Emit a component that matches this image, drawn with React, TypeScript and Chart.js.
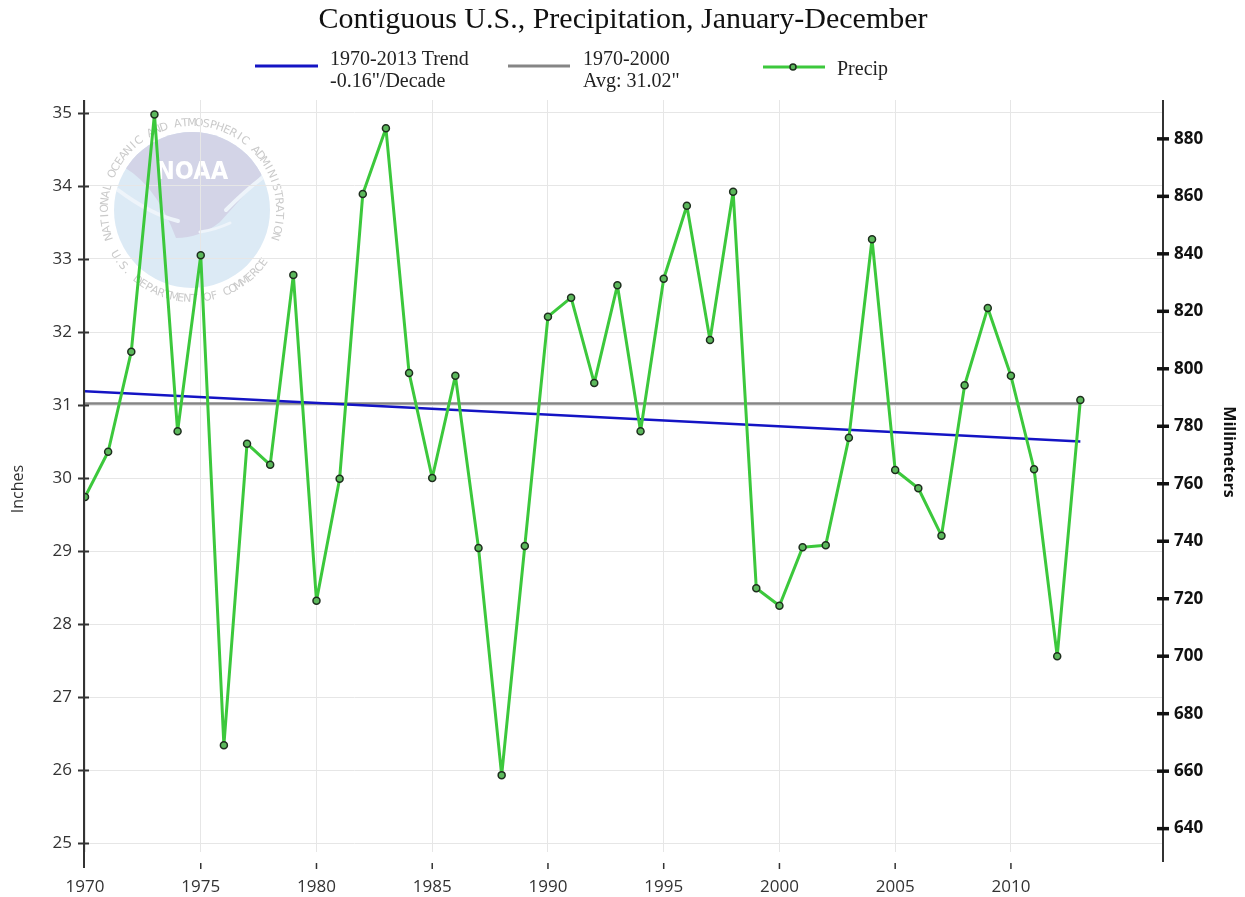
import React, { useEffect, useRef } from "react";
import { Chart, registerables } from "chart.js";

Chart.register(...registerables);

const years: number[] = [
  1970, 1971, 1972, 1973, 1974, 1975, 1976, 1977, 1978, 1979,
  1980, 1981, 1982, 1983, 1984, 1985, 1986, 1987, 1988, 1989,
  1990, 1991, 1992, 1993, 1994, 1995, 1996, 1997, 1998, 1999,
  2000, 2001, 2002, 2003, 2004, 2005, 2006, 2007, 2008, 2009,
  2010, 2011, 2012, 2013,
];
const precipInches: number[] = [
  29.74, 30.36, 31.73, 34.98, 30.64, 33.05, 26.34, 30.47, 30.18, 32.78,
  28.32, 29.99, 33.89, 34.79, 31.44, 30.0, 31.4, 29.04, 25.93, 29.07,
  32.21, 32.47, 31.3, 32.64, 30.64, 32.73, 33.73, 31.89, 33.92, 28.49,
  28.25, 29.05, 29.08, 30.55, 33.27, 30.11, 29.86, 29.21, 31.27, 32.33,
  31.4, 30.12, 27.56, 31.07,
];
const trendYears: number[] = [1970, 2013];
const trendInches: number[] = [31.19, 30.5];
const avgYears: number[] = [1970, 2013];
const avgInches: number[] = [31.02, 31.02];

const inchTicks: number[] = [25, 26, 27, 28, 29, 30, 31, 32, 33, 34, 35];
const mmTicks: number[] = [640, 660, 680, 700, 720, 740, 760, 780, 800, 820, 840, 860, 880];
const yearTicks: number[] = [1970, 1975, 1980, 1985, 1990, 1995, 2000, 2005, 2010];

const titleText = "Contiguous U.S., Precipitation, January-December";
const legendTrend: string[] = ["1970-2013 Trend", "-0.16\"/Decade"];
const legendAvg: string[] = ["1970-2000", "Avg: 31.02\""];
const legendPrecip = "Precip";
const leftTitle = "Inches";
const rightTitle = "Millimeters";

const Y_MIN = 24.877;
const Y_MAX = 35.178;
const X_MIN = 1970;
const X_MAX = 2016.57;

const GREEN = "#3cc83c";
const BLUE = "#1414c4";
const GRAY = "#858585";

function ringText(
  ctx: CanvasRenderingContext2D,
  text: string,
  cx: number,
  cy: number,
  R: number,
  startDeg: number,
  endDeg: number,
  top: boolean
) {
  const n = text.length;
  for (let i = 0; i < n; i++) {
    const t = startDeg + ((endDeg - startDeg) * (i + 0.5)) / n;
    const a = (t * Math.PI) / 180;
    ctx.save();
    ctx.translate(cx + R * Math.cos(a), cy + R * Math.sin(a));
    ctx.rotate(a + (top ? Math.PI / 2 : -Math.PI / 2));
    ctx.fillText(text[i], 0, 0);
    ctx.restore();
  }
}

function drawLogo(ctx: CanvasRenderingContext2D) {
  const cx = 192;
  const cy = 210;
  const r = 78;
  ctx.save();
  ctx.beginPath();
  ctx.arc(cx, cy, r, 0, Math.PI * 2);
  ctx.fillStyle = "#dceaf5";
  ctx.fill();
  ctx.clip();
  ctx.beginPath();
  ctx.moveTo(100, 100);
  ctx.lineTo(100, 158);
  ctx.quadraticCurveTo(150, 168, 176, 238);
  ctx.quadraticCurveTo(200, 238, 220, 222);
  ctx.quadraticCurveTo(242, 198, 264, 172);
  ctx.lineTo(290, 150);
  ctx.lineTo(290, 100);
  ctx.closePath();
  ctx.fillStyle = "#d3d4e7";
  ctx.fill();
  ctx.strokeStyle = "#eef4fa";
  ctx.lineCap = "round";
  ctx.lineWidth = 4;
  ctx.beginPath();
  ctx.moveTo(118, 190);
  ctx.quadraticCurveTo(150, 214, 178, 221);
  ctx.stroke();
  ctx.lineWidth = 3;
  ctx.beginPath();
  ctx.moveTo(200, 232);
  ctx.quadraticCurveTo(215, 230, 230, 223);
  ctx.stroke();
  ctx.lineWidth = 4;
  ctx.beginPath();
  ctx.moveTo(226, 210);
  ctx.quadraticCurveTo(246, 190, 262, 178);
  ctx.stroke();
  ctx.restore();

  ctx.save();
  ctx.fillStyle = "#ffffff";
  ctx.font = 'bold 25px "DejaVu Sans Condensed"';
  ctx.textAlign = "center";
  ctx.textBaseline = "middle";
  ctx.fillText("NOAA", 192, 172);
  ctx.fillStyle = "#cacaca";
  ctx.font = '11px "DejaVu Sans"';
  ringText(ctx, "NATIONAL OCEANIC AND ATMOSPHERIC ADMINISTRATION", cx, cy, 87, 160, 380, true);
  ringText(ctx, "U.S. DEPARTMENT OF COMMERCE", cx, cy, 89, 152, 34, false);
  ctx.restore();
}

const decorPlugin = {
  id: "decor",
  beforeDraw(chart: any) {
    drawLogo(chart.ctx);
  },
  afterDraw(chart: any) {
    const ctx: CanvasRenderingContext2D = chart.ctx;
    const area = chart.chartArea;
    const y = chart.scales.y;
    const y2 = chart.scales.y2;
    const x = chart.scales.x;
    ctx.save();
    // axis lines
    ctx.strokeStyle = "#333333";
    ctx.lineWidth = 2;
    ctx.beginPath();
    ctx.moveTo(area.left - 1, area.top);
    ctx.lineTo(area.left - 1, 868);
    ctx.stroke();
    ctx.beginPath();
    ctx.moveTo(area.right, area.top);
    ctx.lineTo(area.right, 862);
    ctx.stroke();
    // left ticks
    ctx.lineWidth = 2;
    for (const v of inchTicks) {
      const py = Math.round(y.getPixelForValue(v)) + 0.5;
      ctx.beginPath();
      ctx.moveTo(area.left - 7, py);
      ctx.lineTo(area.left + 4, py);
      ctx.stroke();
    }
    // right ticks
    ctx.strokeStyle = "#111111";
    ctx.lineWidth = 3.5;
    for (const v of mmTicks) {
      const py = y2.getPixelForValue(v);
      ctx.beginPath();
      ctx.moveTo(area.right - 6, py);
      ctx.lineTo(area.right + 6, py);
      ctx.stroke();
    }
    // x ticks
    ctx.strokeStyle = "#333333";
    ctx.lineWidth = 1.5;
    for (const v of yearTicks) {
      if (v === X_MIN) continue;
      const px = x.getPixelForValue(v);
      ctx.beginPath();
      ctx.moveTo(px, 863);
      ctx.lineTo(px, 869);
      ctx.stroke();
    }
    // axis titles
    ctx.fillStyle = "#333333";
    ctx.font = '16px "Open Sans"';
    ctx.textAlign = "center";
    ctx.textBaseline = "middle";
    ctx.save();
    ctx.translate(18, 489);
    ctx.rotate(-Math.PI / 2);
    ctx.fillText(leftTitle, 0, 0);
    ctx.restore();
    ctx.fillStyle = "#111111";
    ctx.font = 'bold 16px "Open Sans"';
    ctx.save();
    ctx.translate(1229, 452);
    ctx.rotate(Math.PI / 2);
    ctx.fillText(rightTitle, 0, 0);
    ctx.restore();

    // title
    ctx.fillStyle = "#111111";
    ctx.font = '30px "Liberation Serif"';
    ctx.textAlign = "center";
    ctx.textBaseline = "middle";
    ctx.fillText(titleText, 623, 20);

    // legend
    ctx.font = '20px "Liberation Serif"';
    ctx.textAlign = "left";
    ctx.fillStyle = "#222222";
    ctx.lineWidth = 3;
    ctx.strokeStyle = BLUE;
    ctx.beginPath();
    ctx.moveTo(255, 66);
    ctx.lineTo(318, 66);
    ctx.stroke();
    ctx.fillText(legendTrend[0], 330, 60);
    ctx.fillText(legendTrend[1], 330, 82);
    ctx.strokeStyle = GRAY;
    ctx.beginPath();
    ctx.moveTo(508, 66);
    ctx.lineTo(570, 66);
    ctx.stroke();
    ctx.fillText(legendAvg[0], 583, 60);
    ctx.fillText(legendAvg[1], 583, 82);
    ctx.strokeStyle = GREEN;
    ctx.beginPath();
    ctx.moveTo(763, 67);
    ctx.lineTo(825, 67);
    ctx.stroke();
    ctx.beginPath();
    ctx.arc(793, 67, 3, 0, Math.PI * 2);
    ctx.fillStyle = "#5cb85c";
    ctx.fill();
    ctx.lineWidth = 1.5;
    ctx.strokeStyle = "#1e2e1e";
    ctx.stroke();
    ctx.fillStyle = "#222222";
    ctx.fillText(legendPrecip, 837, 70);
    ctx.restore();
  },
};

export default function App() {
  const canvasRef = useRef<HTMLCanvasElement | null>(null);

  useEffect(() => {
    document.body.style.margin = "0";
    const canvas = canvasRef.current;
    if (!canvas) return;
    const tickFont = { family: '"Open Sans"', size: 17 };
    const chart = new Chart(canvas, {
      type: "line",
      data: {
        datasets: [
          {
            label: "Precip",
            data: years.map((yr, i) => ({ x: yr, y: precipInches[i] })),
            borderColor: GREEN,
            borderWidth: 3,
            borderJoinStyle: "round",
            borderCapStyle: "round",
            pointRadius: 3.5,
            pointBackgroundColor: "#5cb85c",
            pointBorderColor: "#1e2e1e",
            pointBorderWidth: 1.5,
            tension: 0,
            order: 0,
          },
          {
            label: legendTrend.join(" "),
            data: trendYears.map((yr, i) => ({ x: yr, y: trendInches[i] })),
            borderColor: BLUE,
            borderWidth: 2.5,
            pointRadius: 0,
            order: 1,
          },
          {
            label: legendAvg.join(" "),
            data: avgYears.map((yr, i) => ({ x: yr, y: avgInches[i] })),
            borderColor: GRAY,
            borderWidth: 2.5,
            pointRadius: 0,
            order: 2,
          },
        ],
      },
      options: {
        animation: false,
        responsive: false,
        layout: { padding: { top: 100 } },
        plugins: {
          legend: { display: false },
          title: { display: false },
          tooltip: { enabled: false },
        },
        scales: {
          x: {
            type: "linear",
            min: X_MIN,
            max: X_MAX,
            afterBuildTicks: (s: any) => {
              s.ticks = yearTicks.map((v) => ({ value: v }));
            },
            afterFit: (s: any) => {
              s.height = 45;
            },
            grid: { color: "#e6e6e6", drawTicks: false, lineWidth: 1 },
            border: { display: false },
            ticks: {
              padding: 25,
              font: tickFont,
              color: "#333333",
              maxRotation: 0,
              autoSkip: false,
              callback: (v: any) => String(v),
            },
          },
          y: {
            type: "linear",
            position: "left",
            min: Y_MIN,
            max: Y_MAX,
            afterBuildTicks: (s: any) => {
              s.ticks = inchTicks.map((v) => ({ value: v }));
            },
            afterFit: (s: any) => {
              s.width = 85;
            },
            grid: { color: "#e6e6e6", drawTicks: false, lineWidth: 1 },
            border: { display: false },
            ticks: {
              padding: 13,
              font: tickFont,
              color: "#333333",
              callback: (v: any) => String(v),
            },
          },
          y2: {
            type: "linear",
            position: "right",
            min: Y_MIN * 25.4,
            max: Y_MAX * 25.4,
            afterBuildTicks: (s: any) => {
              s.ticks = mmTicks.map((v) => ({ value: v }));
            },
            afterFit: (s: any) => {
              s.width = 82;
            },
            grid: { display: false, drawTicks: false },
            border: { display: false },
            ticks: {
              padding: 11,
              font: { family: '"Open Sans"', size: 17, weight: "bold" },
              color: "#111111",
              callback: (v: any) => String(v),
            },
          },
        },
      },
      plugins: [decorPlugin],
    } as any);
    return () => chart.destroy();
  }, []);

  return (
    <div style={{ width: 1245, height: 897, background: "#ffffff" }}>
      <canvas ref={canvasRef} width={1245} height={897} style={{ display: "block" }} />
    </div>
  );
}
